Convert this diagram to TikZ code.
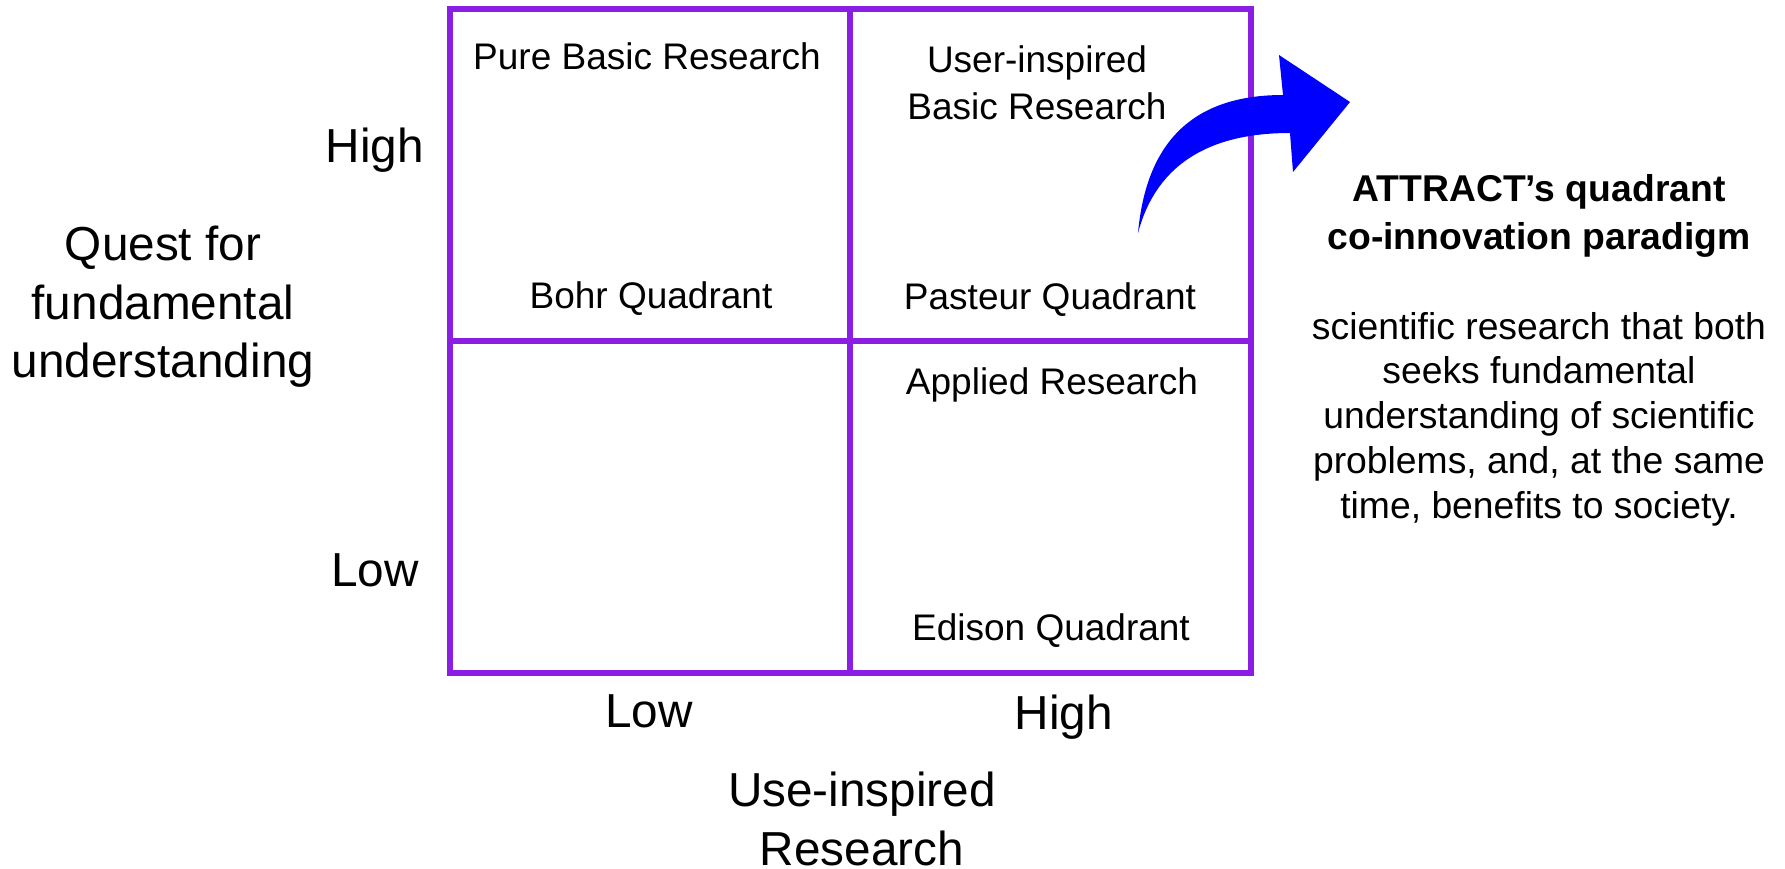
\documentclass[tikz,border=0pt]{standalone}
\usepackage{fontspec}
\setmainfont{Liberation Sans}
\definecolor{gridpurple}{RGB}{138,30,226}
\definecolor{arrowblue}{RGB}{0,0,255}
\tikzset{
  quad/.style={inner sep=0pt, align=center, font=\fontsize{37}{47}\selectfont},
  axis/.style={inner sep=0pt, align=center, font=\fontsize{47.7}{58.5}\selectfont},
  titletxt/.style={inner sep=0pt, align=center, font=\fontsize{37.3}{48}\selectfont\bfseries},
  bodytxt/.style={inner sep=0pt, align=center, font=\fontsize{37.3}{44.7}\selectfont},
  gridline/.style={draw=gridpurple, line width=5.5pt},
}
\begin{document}
\begin{tikzpicture}[x=1pt,y=-1pt]
\useasboundingbox (0,0) rectangle (1785,869);
% grid
\draw[gridline] (450,9) rectangle (1251,673);
\draw[gridline] (850,9) -- (850,673);
\draw[gridline] (450,341) -- (1251,341);
% quadrant labels
\node[quad] (pure) at (647,56) {Pure Basic Research};
\node[quad] (user) at (1037,83) {User-inspired\\Basic Research};
\node[quad] (bohr) at (651,299) {Bohr Quadrant};
\node[quad] (pasteur) at (1050,300) {Pasteur Quadrant};
\node[quad] (applied) at (1052,385) {Applied Research};
\node[quad] (edison) at (1051,631) {Edison Quadrant};
% axes
\node[axis] (yhigh) at (375,150) {High};
\node[axis] (ylow) at (375,570) {Low};
\node[axis] (ytitle) at (163,307) {Quest for\\fundamental\\understanding};
\node[axis] (xlow) at (649,711) {Low};
\node[axis] (xhigh) at (1064,717) {High};
\node[axis] (xtitle) at (862,819) {Use-inspired\\Research};
% right text
\node[titletxt] (title) at (1539,216) {ATTRACT’s quadrant\\co-innovation paradigm};
\node[bodytxt] (body) at (1539,419) {scientific research that both\\seeks fundamental\\understanding of scientific\\problems, and, at the same\\time, benefits to society.};
% curved arrow
\fill[arrowblue] (1138,233) .. controls (1146,145) and (1190,95) .. (1283,95)
  -- (1279,55) -- (1350,102) -- (1293,172) -- (1290,133)
  .. controls (1230,133) and (1160,150) .. (1138,233) -- cycle;
\end{tikzpicture}
\end{document}
